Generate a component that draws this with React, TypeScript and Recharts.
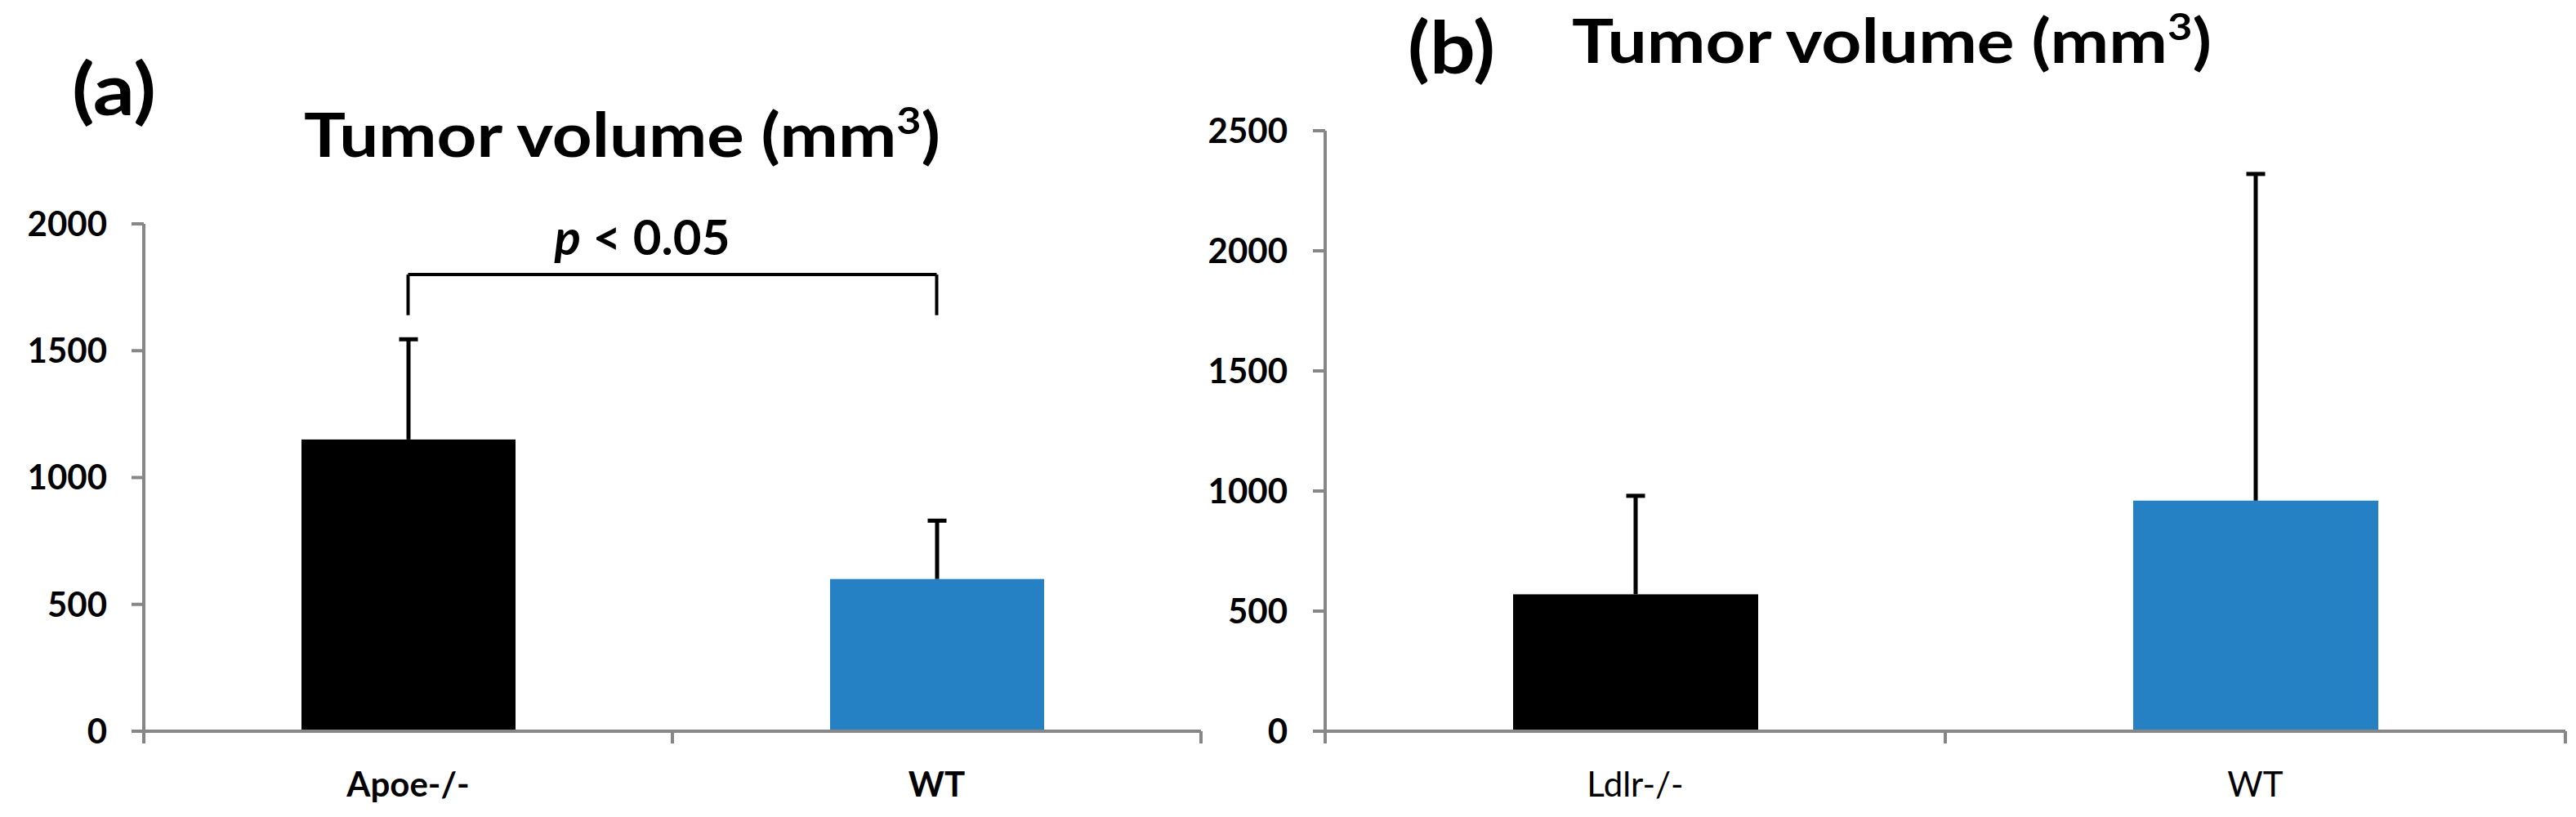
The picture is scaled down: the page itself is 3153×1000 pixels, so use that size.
import React from "react";
import { BarChart, Bar, XAxis, YAxis, Cell, ReferenceLine } from "recharts";

// panel (a)
const groupsA = ["Apoe-/-", "WT"];
const meansA = [1150, 600];
const errA = [395, 230];
const ticksA = [0, 500, 1000, 1500, 2000];
const bracketA = { top: 1800, foot: 1640 };

// panel (b)
const groupsB = ["Ldlr-/-", "WT"];
const meansB = [570, 960];
const errB = [410, 1360];
const ticksB = [0, 500, 1000, 1500, 2000, 2500];

const barColors = ["#000000", "#2581c3"];

const FONT = "Lato, 'Open Sans', sans-serif";
const AXIS = "#878787";
const TICK_LEN = 15;
const LABEL_GAP = 65;

const toRows = (groups: string[], means: number[], errs: number[]) =>
  groups.map((name, i) => ({ name, pos: i + 0.5, value: means[i], err: errs[i] }));

const dataA = toRows(groupsA, meansA, errA);
const dataB = toRows(groupsB, meansB, errB);

// bar with plus-only error bar, sized from the bar's own pixel scale
const BarWithError = (props: any) => {
  const { x, y, width, height, fill, payload } = props;
  const perUnit = height / payload.value;
  const top = y - payload.err * perUnit;
  const cx = x + width / 2;
  return (
    <g>
      <rect x={x} y={y} width={width} height={height} fill={fill} />
      <line x1={cx} y1={y} x2={cx} y2={top} stroke="#000" strokeWidth={5} />
      <line x1={cx - 11.5} y1={top} x2={cx + 11.5} y2={top} stroke="#000" strokeWidth={5} />
    </g>
  );
};

// category labels at half positions, tick marks at the band edges
const makeXTick = (groups: string[], bold: boolean) => (props: any) => {
  const { x, y, payload } = props;
  const v = payload.value;
  const axisY = y - TICK_LEN - LABEL_GAP;
  if (Number.isInteger(v)) {
    return <line x1={x} y1={axisY} x2={x} y2={axisY + TICK_LEN} stroke={AXIS} strokeWidth={4} />;
  }
  return (
    <text x={x} y={y} textAnchor="middle" fontFamily={FONT} fontSize={42} fontWeight={bold ? 700 : 400} fill="#000">
      {groups[Math.floor(v)]}
    </text>
  );
};

const PLabel = (props: any) => {
  const vb = props.viewBox || {};
  const cx = vb.x + (vb.width || 0) / 2 - 37;
  return (
    <text x={cx} y={vb.y - 24} textAnchor="middle" fontFamily={FONT} fontSize={60} fontWeight={700} fill="#000">
      <tspan fontStyle="italic">p</tspan>
      <tspan> &lt; 0.05</tspan>
    </text>
  );
};

const yTick = { fontFamily: FONT, fontSize: 42, fontWeight: 700, fill: "#000" };

export default function App() {
  return (
    <div style={{ position: "absolute", left: 0, top: 0, width: 3153, height: 1000, background: "#fff" }}>
      <div style={{ position: "absolute", left: 0, top: 0 }}>
        <BarChart width={1480} height={1000} data={dataA} margin={{ top: 274, right: 10, bottom: 5, left: 0 }}>
          <XAxis
            dataKey="pos"
            type="number"
            domain={[0, 2]}
            ticks={[0, 0.5, 1, 1.5, 2]}
            interval={0}
            height={100}
            axisLine={{ stroke: AXIS, strokeWidth: 4 }}
            tickLine={{ stroke: "transparent" }}
            tickSize={TICK_LEN}
            tickMargin={LABEL_GAP}
            tick={makeXTick(groupsA, true)}
          />
          <YAxis
            domain={[0, 2000]}
            ticks={ticksA}
            interval={0}
            width={176}
            axisLine={{ stroke: AXIS, strokeWidth: 4 }}
            tickLine={{ stroke: AXIS, strokeWidth: 4 }}
            tickSize={TICK_LEN}
            tickMargin={30}
            tick={yTick}
          />
          <Bar dataKey="value" barSize={262} shape={<BarWithError />} isAnimationActive={false}>
            {dataA.map((d, i) => (
              <Cell key={d.name} fill={barColors[i]} />
            ))}
          </Bar>
          <ReferenceLine
            segment={[{ x: dataA[0].pos, y: bracketA.top }, { x: dataA[1].pos, y: bracketA.top }]}
            stroke="#000"
            strokeWidth={4}
            ifOverflow="visible"
            label={<PLabel />}
          />
          <ReferenceLine
            segment={[{ x: dataA[0].pos, y: bracketA.foot }, { x: dataA[0].pos, y: bracketA.top }]}
            stroke="#000"
            strokeWidth={4}
            ifOverflow="visible"
          />
          <ReferenceLine
            segment={[{ x: dataA[1].pos, y: bracketA.foot }, { x: dataA[1].pos, y: bracketA.top }]}
            stroke="#000"
            strokeWidth={4}
            ifOverflow="visible"
          />
        </BarChart>
      </div>

      <div style={{ position: "absolute", left: 1460, top: 0 }}>
        <BarChart width={1693} height={1000} data={dataB} margin={{ top: 160, right: 13, bottom: 5, left: 0 }}>
          <XAxis
            dataKey="pos"
            type="number"
            domain={[0, 2]}
            ticks={[0, 0.5, 1, 1.5, 2]}
            interval={0}
            height={100}
            axisLine={{ stroke: AXIS, strokeWidth: 4 }}
            tickLine={{ stroke: "transparent" }}
            tickSize={TICK_LEN}
            tickMargin={LABEL_GAP}
            tick={makeXTick(groupsB, false)}
          />
          <YAxis
            domain={[0, 2500]}
            ticks={ticksB}
            interval={0}
            width={162}
            axisLine={{ stroke: AXIS, strokeWidth: 4 }}
            tickLine={{ stroke: AXIS, strokeWidth: 4 }}
            tickSize={TICK_LEN}
            tickMargin={31}
            tick={yTick}
          />
          <Bar dataKey="value" barSize={300} shape={<BarWithError />} isAnimationActive={false}>
            {dataB.map((d, i) => (
              <Cell key={d.name} fill={barColors[i]} />
            ))}
          </Bar>
        </BarChart>
      </div>

      <svg
        width={3153}
        height={1000}
        style={{ position: "absolute", left: 0, top: 0, pointerEvents: "none" }}
        fontFamily={FONT}
        fontWeight={700}
      >
        <text x={88} y={141} fontSize={88} textLength={103} lengthAdjust="spacingAndGlyphs">(a)</text>
        <text x={372} y={192} fontSize={75} textLength={779} lengthAdjust="spacingAndGlyphs">
          Tumor volume (mm<tspan dy={-28} fontSize={46}>3</tspan>
          <tspan dy={28}>)</tspan>
        </text>
        <text x={1723} y={90} fontSize={88} textLength={107} lengthAdjust="spacingAndGlyphs">(b)</text>
        <text x={1924} y={77} fontSize={75} textLength={783} lengthAdjust="spacingAndGlyphs">
          Tumor volume (mm<tspan dy={-28} fontSize={46}>3</tspan>
          <tspan dy={28}>)</tspan>
        </text>
      </svg>
    </div>
  );
}
